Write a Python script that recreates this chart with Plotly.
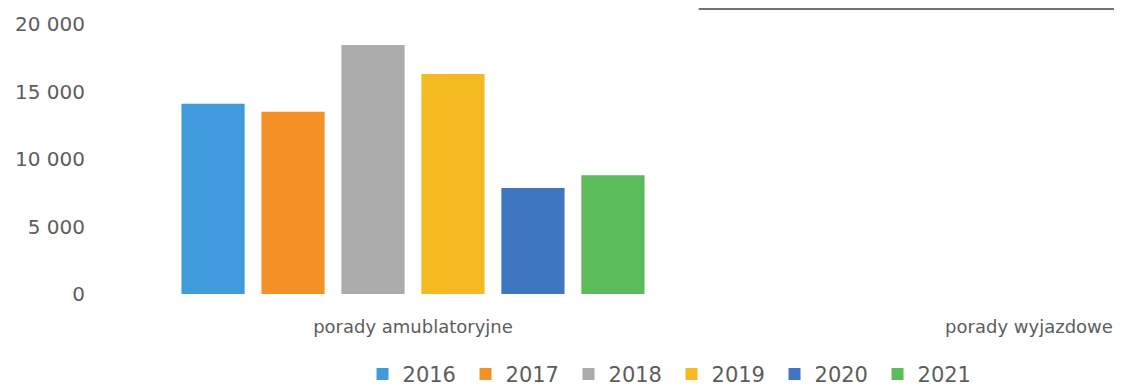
import plotly.graph_objects as go

# categories and yearly series
categories = ["porady amublatoryjne", "porady wyjazdowe"]
years = ["2016", "2017", "2018", "2019", "2020", "2021"]
values = {
    "2016": [14100, 0],
    "2017": [13500, 0],
    "2018": [18450, 0],
    "2019": [16300, 0],
    "2020": [7850, 0],
    "2021": [8800, 0],
}
colors = ["#3f9bdc", "#f39127", "#ababab", "#f5ba22", "#3f76c2", "#5cbb5a"]

fig = go.Figure()

for year, color in zip(years, colors):
    fig.add_trace(go.Bar(
        name=year,
        x=categories,
        y=values[year],
        marker=dict(color=color, line=dict(width=0)),
    ))

# page body has an 8px margin, so keep the figure inside the visible area
fig.update_layout(
    width=1106,
    height=380,
    barmode='group',
    bargap=0.221,
    bargroupgap=0.21,
    separators=', ',
    plot_bgcolor='white',
    paper_bgcolor='white',
    margin=dict(l=93, r=0, t=16, b=94, autoexpand=False),
    font=dict(family='DejaVu Sans', color='#5d5d5d'),
    xaxis=dict(
        range=[-0.5065, 1.138],
        showgrid=False,
        showline=False,
        zeroline=False,
        ticks='outside',
        ticklen=16,
        tickcolor='rgba(0,0,0,0)',
        tickfont=dict(size=18, color='#5d5d5d'),
    ),
    yaxis=dict(
        range=[0, 20000],
        tickvals=[0, 5000, 10000, 15000, 20000],
        tickformat=',d',
        showgrid=False,
        zeroline=False,
        showline=False,
        ticklabelstandoff=15,
        tickfont=dict(size=20, color='#5d5d5d'),
    ),
    legend=dict(
        orientation='h',
        x=0.5632,
        xanchor='center',
        y=-0.298,
        yanchor='middle',
        font=dict(size=21, color='#5d5d5d'),
        itemwidth=30,
        entrywidth=58,
        traceorder='normal',
    ),
    shapes=[dict(
        type='line', xref='paper', yref='paper',
        x0=0.59, x1=1.0, y0=1.0556, y1=1.0556,
        line=dict(color='#444444', width=1.5),
    )],
)

fig.write_html("out.html")
